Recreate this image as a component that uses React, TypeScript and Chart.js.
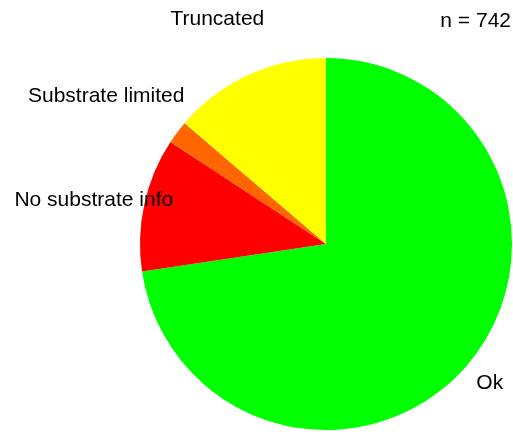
import { useEffect, useRef } from "react";
import { Chart, registerables } from "chart.js";

Chart.register(...registerables);

const categories = ["Ok", "No substrate info", "Substrate limited", "Truncated"];
const counts = [539, 86, 15, 102];
const sliceColors = ["#00FF00", "#FF0000", "#FF6600", "#FFFF00"];
const sampleLabel = "n = 742";

// label placement: radius factor and small angular shift (degrees) from slice mid-angle
const labelRadius = [1.157, 1.27, 1.425, 1.34];
const labelAngleShift = [-0.3, -1.8, -2.9, -1.1];

const FONT = "21px 'Liberation Sans', Arial, sans-serif";

const labelPlugin = {
  id: "pieLabels",
  afterDraw(chart: any) {
    const ctx = chart.ctx;
    const meta = chart.getDatasetMeta(0);
    ctx.save();
    ctx.font = FONT;
    ctx.fillStyle = "#000";
    ctx.textAlign = "center";
    ctx.textBaseline = "middle";
    meta.data.forEach((arc: any, i: number) => {
      const { x, y, startAngle, endAngle, outerRadius } = arc.getProps(
        ["x", "y", "startAngle", "endAngle", "outerRadius"],
        true
      );
      const mid = (startAngle + endAngle) / 2 + (labelAngleShift[i] * Math.PI) / 180;
      const r = outerRadius * labelRadius[i];
      ctx.fillText(categories[i], x + r * Math.cos(mid), y + r * Math.sin(mid));
    });
    ctx.textAlign = "right";
    ctx.textBaseline = "alphabetic";
    ctx.fillText(sampleLabel, chart.width - 2, 27);
    ctx.restore();
  },
};

export default function App() {
  const ref = useRef<HTMLCanvasElement>(null);
  useEffect(() => {
    document.body.style.margin = "0";
    const chart = new Chart(ref.current!, {
      type: "pie",
      data: {
        labels: categories,
        datasets: [
          {
            data: counts,
            backgroundColor: sliceColors,
            borderWidth: 0,
          },
        ],
      },
      options: {
        animation: false,
        responsive: false,
        layout: { padding: { left: 140, top: 58, right: 1, bottom: 4 } },
        plugins: {
          legend: { display: false },
          tooltip: { enabled: false },
          title: { display: false },
        },
      },
      plugins: [labelPlugin],
    });
    return () => chart.destroy();
  }, []);
  return (
    <div style={{ width: 513, height: 434, background: "#fff" }}>
      <canvas ref={ref} width={513} height={434} />
    </div>
  );
}
